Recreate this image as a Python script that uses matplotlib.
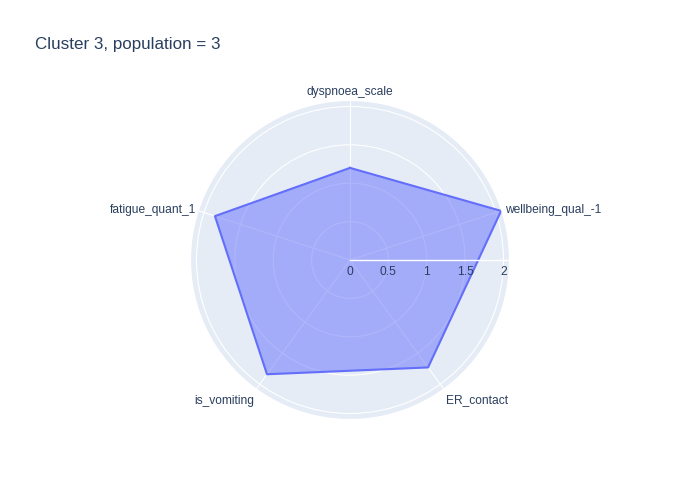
import numpy as np
import matplotlib.pyplot as plt

# ---- data ----
categories = ['dyspnoea_scale', 'wellbeing_qual_-1', 'ER_contact', 'is_vomiting', 'fatigue_quant_1']
values = [1.20, 2.07, 1.73, 1.84, 1.85]
r_ticks = [0, 0.5, 1, 1.5, 2]
r_tick_labels = ['0', '0.5', '1', '1.5', '2']
title = 'Cluster 3, population = 3'

# ---- style ----
plt.rcParams['font.family'] = ['Liberation Sans', 'DejaVu Sans']
txt_col = '#2a3f5f'
line_col = '#636efa'
bg_col = '#E5ECF6'
fs = 8.64  # 12px

# categories go clockwise from the top
angles = np.deg2rad((90 - 72 * np.arange(len(categories))) % 360)
r_max = max(values)

fig = plt.figure(figsize=(7, 5), dpi=100)
ax = fig.add_axes([0.273, 0.162, 0.454, 0.636], projection='polar')
ax.set_facecolor(bg_col)

th = np.append(angles, angles[0])
vv = np.append(values, values[0])
ax.fill(th, vv, color=line_col, alpha=0.5, lw=0, zorder=3)
ax.plot(th, vv, color=line_col, lw=1.5, zorder=4)

# radial axis line
ax.plot([0, 0], [0, r_max], color='white', lw=1.0, zorder=6)

ax.set_xlim(0, 2 * np.pi)
ax.set_ylim(0, r_max)
for sp in ax.spines.values():
    sp.set_visible(False)
ax.set_xticks(angles)
ax.set_xticklabels([])
ax.set_yticks(r_ticks[1:])
ax.set_yticklabels([])
ax.grid(color='white', lw=0.8)
ax.tick_params(length=0)

# angular labels
offsets = [((0, 3), 'center', 'bottom'),
           ((4, 1), 'left', 'center'),
           ((2.5, -12), 'left', 'center'),
           ((-2.5, -12), 'right', 'center'),
           ((-3, 1), 'right', 'center')]
for a, lab, (off, ha, va) in zip(angles, categories, offsets):
    ax.annotate(lab, xy=(a, r_max), xytext=off, textcoords='offset pixels',
                ha=ha, va=va, fontsize=fs, color=txt_col, annotation_clip=False)

# radial tick labels
for r, lab in zip(r_ticks, r_tick_labels):
    ax.annotate(lab, xy=(0, r), xytext=(0, -12), textcoords='offset pixels',
                ha='center', va='center', fontsize=fs, color=txt_col, zorder=7,
                annotation_clip=False)

fig.text(35 / 700, 1 - 44 / 500, title, fontsize=12.24, color=txt_col,
         ha='left', va='center')

fig.savefig('out.png', dpi=100)
